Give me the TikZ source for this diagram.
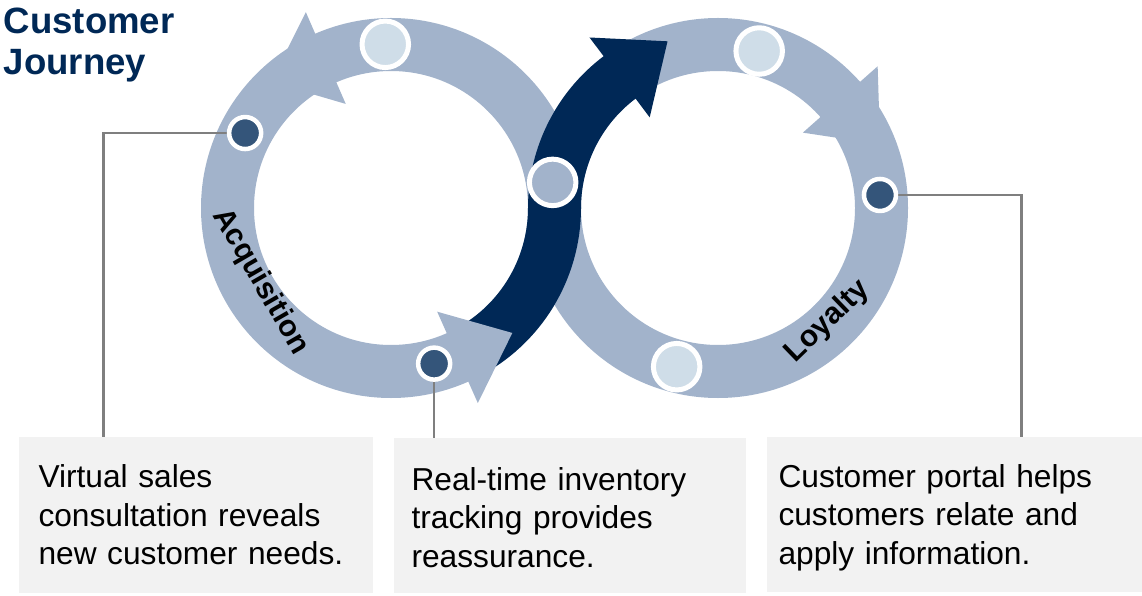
\documentclass[tikz,border=0pt]{standalone}
\usepackage{fontspec}
\setmainfont{Liberation Sans}
\usetikzlibrary{calc}
\definecolor{ringblue}{HTML}{A2B3CB}
\definecolor{navy}{HTML}{002856}
\definecolor{paledot}{HTML}{CFDDE8}
\definecolor{inkdot}{HTML}{34557A}
\definecolor{notegray}{HTML}{F2F2F2}
\definecolor{linkgray}{HTML}{7F7F7F}
\pgfdeclarelayer{rings}
\pgfdeclarelayer{links}
\pgfsetlayers{rings,links,main}
\begin{document}
\begin{tikzpicture}[x=1pt,y=1pt,
  ring/.style={draw=ringblue,line width=53pt},
  band/.style={draw=navy,line width=53pt},
  bigdot/.style={circle,draw=white,line width=5pt,minimum size=46.5pt,inner sep=0pt},
  smalldot/.style={circle,draw=white,fill=inkdot,line width=4.5pt,minimum size=32pt,inner sep=0pt},
  note/.style={fill=notegray,anchor=north west,align=left,inner ysep=0pt,font=\fontsize{31.7}{38.5}\selectfont},
  loopname/.style={font=\fontsize{30}{36}\selectfont\bfseries},
  link/.style={draw=linkgray,line width=2.5pt}]
  \useasboundingbox (0,0) rectangle (1142,595);
%%
  \coordinate (acq) at (391,387);
  \coordinate (loy) at (718,387);
\begin{pgfonlayer}{rings}
  % Ring: acq, loy
  \draw[ring] (acq) circle[radius=163.5pt];
  \draw[ring] (loy) circle[radius=163.5pt];
  % Edge: acq -> loy
  \draw[band] ($(acq)+(-63:163.5pt)$) arc[start angle=-63, end angle=0, radius=163.5pt]
    arc[start angle=180, end angle=125, radius=163.5pt];
  \fill[navy] ($(loy)+(127:213.5pt)$) -- ($(loy)+(127:113.5pt)$) -- ($(loy)+(127:163.5pt)+(37:60pt)$) -- cycle;
  % Heads: acq, loy
  \fill[ringblue] ($(acq)+(113.5:213.5pt)$) -- ($(acq)+(113.5:113.5pt)$) -- ($(acq)+(113.5:163.5pt)+(203.5:60pt)$) -- cycle;
  \fill[ringblue] ($(acq)+(294:213.5pt)$) -- ($(acq)+(294:113.5pt)$) -- ($(acq)+(294:163.5pt)+(24:60pt)$) -- cycle;
  \fill[ringblue] ($(loy)+(41.6:213.5pt)$) -- ($(loy)+(41.6:113.5pt)$) -- ($(loy)+(41.6:163.5pt)+(-48.4:60pt)$) -- cycle;
\end{pgfonlayer}
  % Node: dots
  \node[bigdot,fill=paledot] (acqtop) at ($(acq)+(92:163.8pt)$) {};
  \node[smalldot] (acqleft) at ($(acq)+(152.8:164pt)$) {};
  \node[smalldot] (acqlow) at ($(acq)+(-74.5:161.5pt)$) {};
  \node[bigdot,fill=ringblue] (hinge) at ($(acq)+(9:163.7pt)$) {};
  \node[bigdot,fill=paledot] (loytop) at ($(loy)+(75.3:162.3pt)$) {};
  \node[smalldot] (loyright) at ($(loy)+(4.6:162.5pt)$) {};
  \node[bigdot,fill=paledot] (loylow) at ($(loy)+(255.4:164pt)$) {};
  % Node: names
  \node[loopname,rotate=-60] (acqname) at ($(acq)+(209.5:150pt)$) {Acquisition};
  \node[loopname,rotate=44] (loyname) at ($(loy)+(-46:158pt)$) {Loyalty};
  % Node: title
  \node[anchor=base west,inner sep=0pt,text width=250pt,align=left,text=navy,
    font=\fontsize{36.6}{41.7}\selectfont\bfseries] (title) at (3.5,561.7) {Customer\\Journey};
  % Node: notes
  \node[note,inner xsep=20pt,text width=314pt,text height=51pt,text depth=105pt] (note1) at (18.3,158.3)
    {Virtual sales\\consultation reveals\\new customer needs.};
  \node[note,inner xsep=18pt,text width=316pt,text height=52pt,text depth=103pt] (note2) at (393.3,157)
    {Real-time inventory\\tracking provides\\reassurance.};
  \node[note,inner xsep=11.6pt,text width=351.8pt,text height=50pt,text depth=105pt] (note3) at (766.7,158)
    {Customer portal helps\\customers relate and\\apply information.};
\begin{pgfonlayer}{links}
  % Edge: acqleft -> note1
  \draw[link] (acqleft.center) -| ($(note1.north west)+(85pt,0)$);
  % Edge: acqlow -> note2
  \draw[link] (acqlow.center) -- (acqlow.center |- note2.north);
  % Edge: loyright -> note3
  \draw[link] (loyright.center) -| ($(note3.north west)+(254.7pt,0)$);
\end{pgfonlayer}
%
\end{tikzpicture}
\end{document}
